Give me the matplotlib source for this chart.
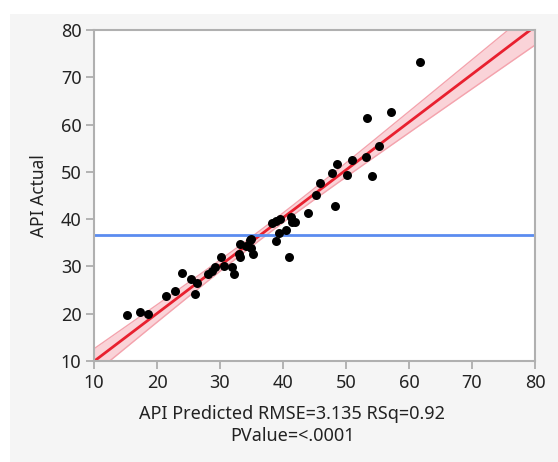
import matplotlib
matplotlib.use("Agg")
import matplotlib.pyplot as plt
import numpy as np
from matplotlib.patches import Rectangle

plt.rcParams['font.family'] = ['Noto Sans', 'DejaVu Sans']

# API predicted (x) vs API actual (y)
api_predicted = [15.3, 17.3, 18.6, 21.4, 22.8, 24.0, 25.4, 26.4, 26.1, 28.1,
                 28.7, 29.2, 30.1, 30.7, 31.9, 32.2, 33.2, 33.2, 33.0, 34.2,
                 34.7, 34.9, 34.9, 35.2, 38.2, 38.9, 39.5, 38.9, 39.3, 40.5,
                 41.3, 41.4, 41.9, 40.9, 44.0, 45.2, 45.8, 48.3, 47.8, 48.5,
                 50.2, 50.9, 53.1, 54.2, 55.3, 53.4, 57.1, 61.7]
api_actual = [19.8, 20.4, 20.0, 23.7, 24.7, 28.6, 27.4, 26.5, 24.1, 28.4,
              29.1, 29.9, 32.0, 30.0, 29.9, 28.5, 34.8, 31.9, 32.6, 34.4,
              35.5, 35.8, 34.0, 32.7, 39.1, 39.6, 40.1, 35.4, 37.0, 37.7,
              40.5, 39.4, 39.4, 32.0, 41.2, 45.2, 47.6, 42.8, 49.7, 51.6,
              49.4, 52.6, 53.2, 49.2, 55.5, 61.3, 62.6, 73.3]
mean_actual = 36.6   # blue mean line
ticks = [10, 20, 30, 40, 50, 60, 70, 80]
xlabel_text = "API Predicted RMSE=3.135 RSq=0.92\nPValue=<.0001"

x = np.array(api_predicted)
y = np.array(api_actual)
n = len(x)

# simple linear fit and 95% confidence band for the mean
slope, intercept = np.polyfit(x, y, 1)
resid = y - (slope * x + intercept)
rmse = np.sqrt(np.sum(resid ** 2) / (n - 2))
sxx = np.sum((x - x.mean()) ** 2)
xs = np.linspace(10, 80, 200)
fit = slope * xs + intercept
half = 2.01 * rmse * np.sqrt(1 / n + (xs - x.mean()) ** 2 / sxx)

fig = plt.figure(figsize=(5.58, 4.62), dpi=100, facecolor='white')
fig.patches.append(Rectangle((10 / 558, 0), 1, 1 - 14 / 462, transform=fig.transFigure,
                             facecolor='#f5f5f5', edgecolor='none', zorder=-10))
ax = fig.add_axes([94 / 558, 1 - 361 / 462, (535 - 94) / 558, (361 - 30) / 462])
ax.set_facecolor('white')

ax.fill_between(xs, fit - half, fit + half, color='#f9c9cf', alpha=0.8, lw=0, zorder=1)
ax.plot(xs, fit - half, color='#f4a3ad', lw=1, zorder=1.5)
ax.plot(xs, fit + half, color='#f4a3ad', lw=1, zorder=1.5)
ax.plot(xs, fit, color='#e8202f', lw=2, zorder=2)
ax.axhline(mean_actual, color='#5b8cf0', lw=2, zorder=2)
ax.scatter(x, y, s=42, color='black', zorder=3, linewidths=0)

ax.set_xlim(10, 80)
ax.set_ylim(10, 80)
ax.set_xticks(ticks)
ax.set_yticks(ticks)
ax.tick_params(direction='out', length=6, width=1.2, color='#a8a8a8',
               labelsize=13, labelcolor='#222222', pad=3)
for s in ax.spines.values():
    s.set_color('#b0b0b0')
    s.set_linewidth(1.5)

ax.set_ylabel("API Actual", fontsize=12.5, color='#222222', labelpad=9)
fig.text(292 / 558, 1 - 425 / 462, xlabel_text, ha='center', va='center',
         fontsize=13, color='#222222', linespacing=1.3)

fig.savefig("out.png", dpi=100, facecolor=fig.get_facecolor())
